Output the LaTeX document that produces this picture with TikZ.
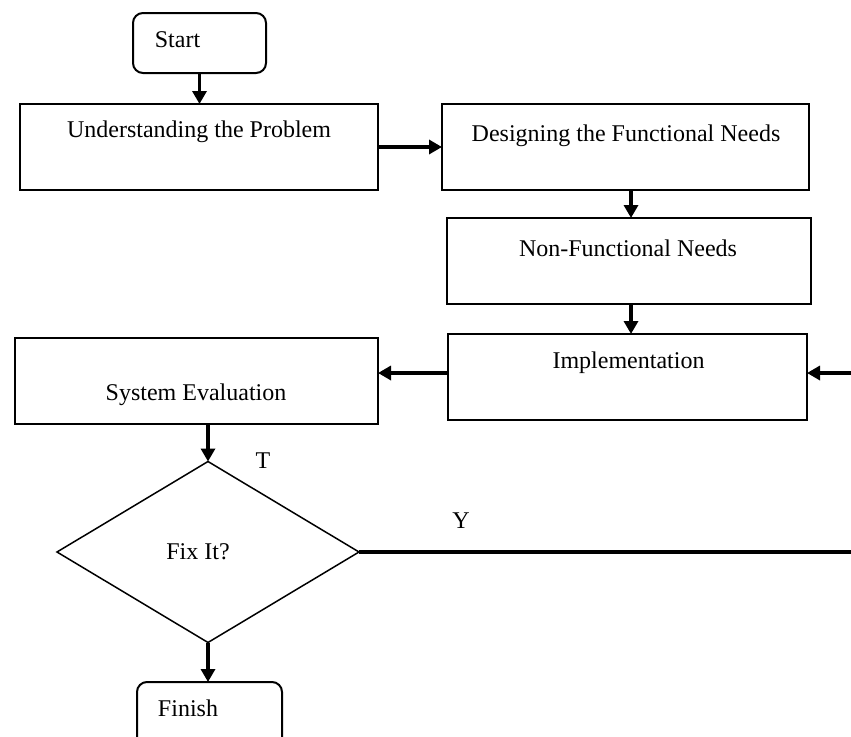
\documentclass[tikz,border=0pt]{standalone}
\usepackage{fontspec}
\setmainfont{Liberation Serif}
\usetikzlibrary{shapes.geometric,arrows.meta,calc}
\begin{document}
\begin{tikzpicture}[x=1pt,y=-1pt,
  font=\fontsize{24}{28}\selectfont,
  box/.style={draw,line width=2pt,inner sep=0pt,outer sep=0pt},
  rbox/.style={box,rounded corners=10pt},
  dec/.style={draw,diamond,line width=1.5pt,inner sep=0pt,outer sep=0pt},
  lbl/.style={inner sep=0pt,anchor=base},
  arr/.style={line width=3.3pt,-{Triangle[length=13pt,width=14pt]}},
  plain/.style={line width=3.3pt}]
\useasboundingbox (0,0) rectangle (851,736);
\clip (0,0) rectangle (851,736);
% boxes
\node[rbox,minimum width=133pt,minimum height=60pt] (start) at (199.5,43) {};
\node[box,minimum width=358pt,minimum height=86pt] (und) at (199,147) {};
\node[box,minimum width=367pt,minimum height=86pt] (des) at (625.5,147) {};
\node[box,minimum width=364pt,minimum height=86pt] (nf) at (629,261) {};
\node[box,minimum width=359pt,minimum height=86pt] (impl) at (627.5,377) {};
\node[box,minimum width=363pt,minimum height=86pt] (sys) at (196.5,381) {};
\node[dec,minimum width=302pt,minimum height=181pt] (dia) at (208,552) {};
\node[rbox,minimum width=145pt,minimum height=78pt] (fin) at (209.5,721) {};
% texts
\node[lbl] (tstart) at (177.5,47) {Start};
\node[lbl] (tund) at (199,137) {Understanding the Problem};
\node[lbl] (tdes) at (626,141) {Designing the Functional Needs};
\node[lbl] (tnf) at (628,256) {Non-Functional Needs};
\node[lbl] (timpl) at (628.5,368) {Implementation};
\node[lbl] (tsys) at (196,400) {System Evaluation};
\node[lbl] (tdia) at (198,559) {Fix It?};
\node[lbl] (tT) at (263,468) {T};
\node[lbl] (tY) at (461,528) {Y};
\node[lbl] (tfin) at (188,716) {Finish};
% connectors
\coordinate (rin) at (851,373);
\coordinate (yend) at (851,552);
\draw[arr] (start.south) -- (start.south |- und.north);
\draw[arr] (und.east) -- (des.west);
\draw[arr] ([xshift=5.5pt]des.south) -- ([xshift=5.5pt]des.south |- nf.north);
\draw[arr] ([xshift=2pt]nf.south) -- ([xshift=2pt]nf.south |- impl.north);
\draw[arr] (rin) -- (rin -| impl.east);
\draw[arr] ([yshift=4pt]impl.west) -- ([yshift=4pt]impl.west -| sys.east);
\draw[arr] (dia.north |- sys.south) -- (dia.north);
\draw[arr] (dia.south) -- (dia.south |- fin.north);
\draw[plain] (dia.east) -- (yend);
\end{tikzpicture}
\end{document}
